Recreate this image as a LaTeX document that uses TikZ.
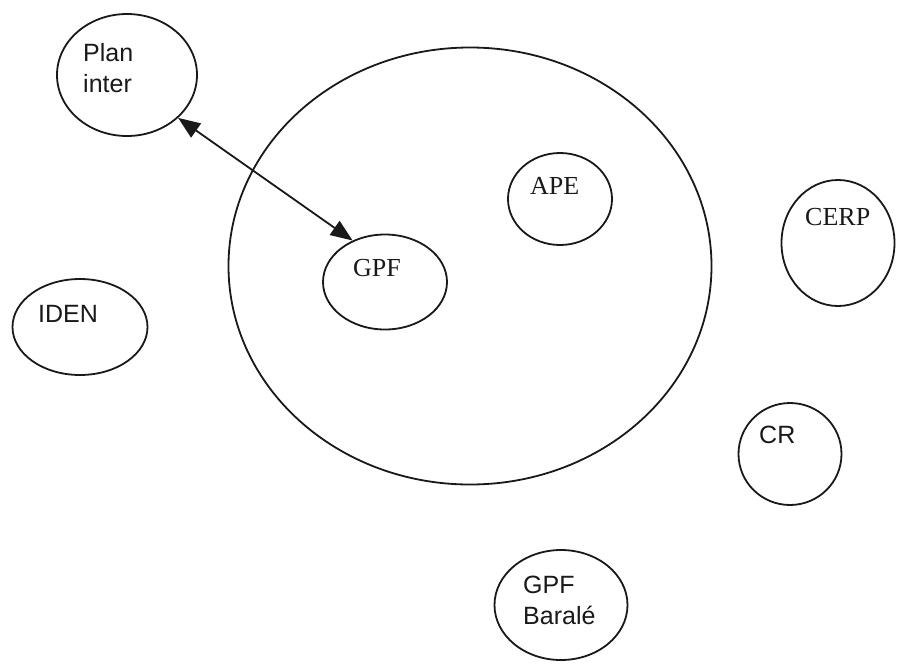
\documentclass[tikz,border=0pt]{standalone}
\usepackage{fontspec}
\setmainfont{Liberation Serif}
\newfontfamily\arialfont{Liberation Sans}
\usetikzlibrary{shapes.geometric,arrows.meta}
\tikzset{
  bubble/.style={draw=black!90, line width=1.8pt, ellipse, inner sep=0pt},
  sanslabel/.style={anchor=base west, inner sep=0pt, font=\arialfont\fontsize{25}{31}\selectfont, text=black!90, align=left},
  seriflabel/.style={anchor=base west, inner sep=0pt, font=\fontsize{26}{31}\selectfont, text=black!90},
  link/.style={line width=1.8pt, draw=black!90, {Triangle[length=22pt,width=17pt]}-{Triangle[length=22pt,width=17pt]}}
}
\begin{document}
\begin{tikzpicture}[x=1pt,y=-1pt]
\useasboundingbox (0,0) rectangle (902,664);
\fill[white] (0,0) rectangle (902,664);
% large circle
\node[bubble, minimum width=483pt, minimum height=437pt] (big) at (470,266) {};
% ellipses
\node[bubble, minimum width=140pt, minimum height=122pt] (plan) at (127,75) {};
\node[bubble, minimum width=104pt, minimum height=92pt] (ape) at (560,199) {};
\node[bubble, minimum width=124pt, minimum height=95pt] (gpf) at (385,282) {};
\node[bubble, minimum width=113pt, minimum height=126pt] (cerp) at (838,243) {};
\node[bubble, minimum width=135pt, minimum height=96pt] (iden) at (80,327) {};
\node[bubble, minimum width=103pt, minimum height=102pt] (cr) at (790,454) {};
\node[bubble, minimum width=133pt, minimum height=110pt] (baral) at (561,605) {};
% labels (base = baseline of last line)
\node[sanslabel] (tplan) at (83,92) {Plan\\inter};
\node[seriflabel] (tape) at (530,194) {APE};
\node[seriflabel] (tgpf) at (353,276) {GPF};
\node[seriflabel] (tcerp) at (805,225) {CERP};
\node[sanslabel] (tiden) at (38,322) {IDEN};
\node[sanslabel] (tcr) at (759,443) {CR};
\node[sanslabel] (tbar) at (523,624) {GPF\\Baral\'e};
% connector
\draw[link] (plan.-40) -- (gpf.128);
\end{tikzpicture}
\end{document}
